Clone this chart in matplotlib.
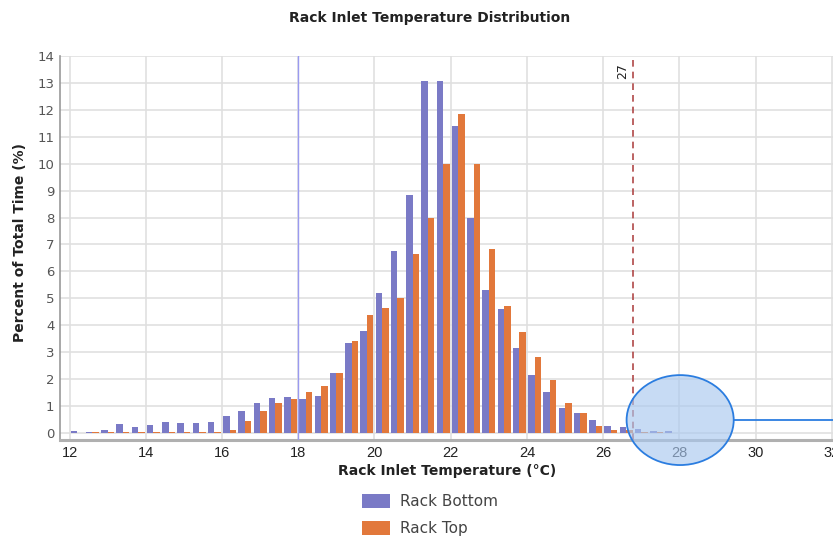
import matplotlib
matplotlib.use("Agg")
import matplotlib.pyplot as plt
from matplotlib.patches import Ellipse, Patch
import numpy as np

# ---- data ----
bin_centers = [12.2, 12.6, 13.0, 13.4, 13.8, 14.2, 14.6, 15.0, 15.4, 15.8,
               16.2, 16.6, 17.0, 17.4, 17.8, 18.2, 18.6, 19.0, 19.4, 19.8,
               20.2, 20.6, 21.0, 21.4, 21.8, 22.2, 22.6, 23.0, 23.4, 23.8,
               24.2, 24.6, 25.0, 25.4, 25.8, 26.2, 26.6, 27.0, 27.4, 27.8]
rack_bottom = [0.07, 0.05, 0.10, 0.33, 0.23, 0.30, 0.42, 0.36, 0.36, 0.42,
               0.63, 0.83, 1.10, 1.31, 1.35, 1.26, 1.37, 2.22, 3.33, 3.78,
               5.20, 6.77, 8.85, 13.06, 13.06, 11.39, 7.98, 5.32, 4.60, 3.15,
               2.16, 1.54, 0.92, 0.73, 0.50, 0.25, 0.23, 0.13, 0.06, 0.06]
rack_top = [0.00, 0.03, 0.03, 0.03, 0.05, 0.03, 0.03, 0.03, 0.05, 0.05,
            0.10, 0.45, 0.83, 1.10, 1.25, 1.53, 1.76, 2.22, 3.42, 4.37,
            4.66, 5.00, 6.65, 7.98, 10.0, 11.86, 10.0, 6.83, 4.72, 3.75,
            2.84, 1.97, 1.13, 0.76, 0.26, 0.11, 0.10, 0.05, 0.02, 0.00]
series_names = ["Rack Bottom", "Rack Top"]
x_ticks = [12, 14, 16, 18, 20, 22, 24, 26, 28, 30, 32]
y_ticks = list(range(0, 15))
lower_limit = 18
upper_limit_pos = 26.79
upper_limit_label = "27"

BLUE = "#7a7ac6"
ORANGE = "#e2783b"

W, H = 833, 537
fig = plt.figure(figsize=(W / 100, H / 100), dpi=100)
ax = fig.add_axes([60 / W, (H - 440) / H, (W - 60) / W, 384 / H])

x = np.array(bin_centers)
bw = 0.17
ax.bar(x - bw / 2, rack_bottom, width=bw, color=BLUE, zorder=3, linewidth=0)
ax.bar(x + bw / 2, rack_top, width=bw, color=ORANGE, zorder=3, linewidth=0)

ax.set_xlim(11.75, 32.03)
ax.set_ylim(-0.26, 14.0)
ax.set_xticks(x_ticks)
ax.set_yticks(y_ticks)
ax.grid(True, color="#e0e0e0", linewidth=1.2, zorder=0)
ax.set_axisbelow(True)
ax.tick_params(axis="both", length=0)
ax.tick_params(axis="x", pad=4, labelsize=10, labelcolor="#222222")
ax.tick_params(axis="y", pad=4, labelsize=9.5, labelcolor="#555555")
for lab in ax.get_xticklabels():
    lab.set_family("Liberation Sans")
    lab.set_fontsize(10.5)

for s in ["top", "right"]:
    ax.spines[s].set_visible(False)
ax.spines["left"].set_color("#999999")
ax.spines["left"].set_linewidth(1.2)
ax.spines["bottom"].set_color("#b0b0b0")
ax.spines["bottom"].set_linewidth(2.2)

# reference lines
ax.axvline(lower_limit, color="#9a9af0", linewidth=1.0, zorder=4)
ax.axvline(upper_limit_pos, color="#b04848", linewidth=1.2,
           linestyle=(0, (4, 3)), zorder=4)
ax.text(upper_limit_pos - 0.12, 13.75, upper_limit_label, rotation=90,
        ha="right", va="top", fontsize=9, color="#222222", zorder=5)

# annotation ellipse with pointer line
ell = Ellipse((28.02, 0.48), 2.81, 3.34, transform=ax.transData,
              facecolor="#a9c8ef", alpha=0.65, edgecolor="none",
              clip_on=False, zorder=6)
ax.add_patch(ell)
ell2 = Ellipse((28.02, 0.48), 2.81, 3.34, transform=ax.transData,
               facecolor="none", edgecolor="#2b7de0", linewidth=1.3,
               clip_on=False, zorder=7)
ax.add_patch(ell2)
ax.plot([28.02 + 2.81 / 2, 32.5], [0.48, 0.48], color="#2b7de0",
        linewidth=1.3, clip_on=False, zorder=7)

# titles
fig.text(430 / W, 1 - 18 / H, "Rack Inlet Temperature Distribution",
         ha="center", va="center", fontsize=10, fontweight="bold",
         color="#222222")
fig.text(447 / W, 1 - 471 / H, "Rack Inlet Temperature (°C)",
         ha="center", va="center", fontsize=10, fontweight="bold",
         color="#222222")
fig.text(20 / W, 1 - 243 / H, "Percent of Total Time (%)", rotation=90,
         ha="center", va="center", fontsize=10, fontweight="bold",
         color="#222222")

handles = [Patch(facecolor=BLUE, edgecolor="none"),
           Patch(facecolor=ORANGE, edgecolor="none")]
fig.legend(handles, series_names, loc="upper left",
           bbox_to_anchor=(362 / W, 1 - 494 / H), frameon=False,
           borderpad=0, borderaxespad=0, handlelength=1.8,
           handleheight=1.05, handletextpad=0.7, labelspacing=0.75,
           prop={"size": 11}, labelcolor="#444444")

fig.savefig("out.png", dpi=100)
